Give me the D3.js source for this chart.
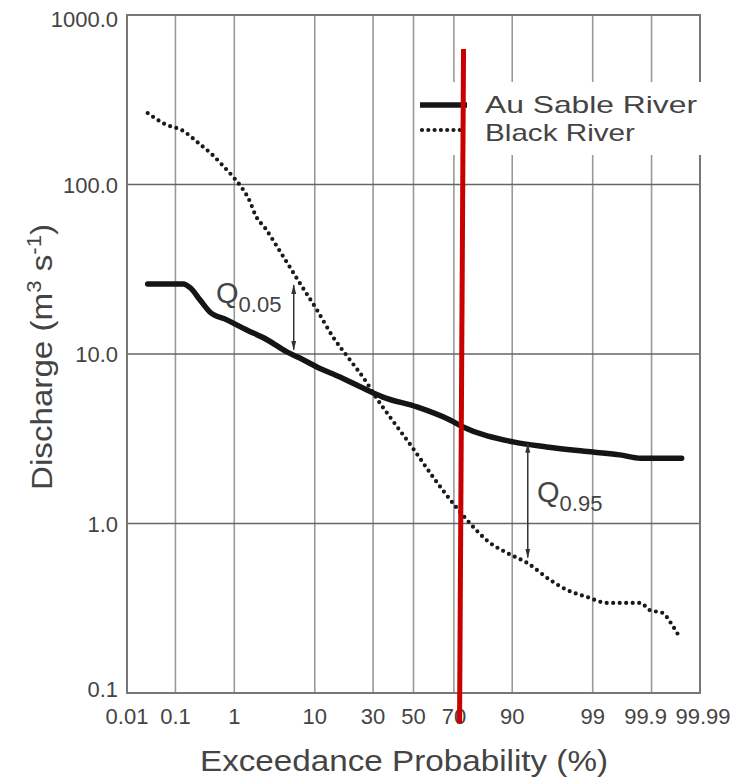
<!DOCTYPE html>
<html>
<head>
<meta charset="utf-8">
<script src="https://cdn.jsdelivr.net/npm/d3@7"></script>
<style>
  body { margin: 0; background: #fff; }
  text { font-family: "Liberation Sans", Arial, sans-serif; fill: #444; }
</style>
</head>
<body>
<div class="canvas"></div>
<script>
// exceedance probability (%) and discharge (m3/s)
const auSableP = [0.028, 0.14, 0.19, 0.28, 0.41, 0.77, 1.5, 2.9, 5.0, 7.0, 10.5, 17, 27.3, 34.6, 51.8, 68.2, 74, 90.2, 95.8, 99.0, 99.63, 99.84, 99.975]
const auSableQ = [25.9, 25.9, 24.5, 20.8, 17.7, 15.9, 13.9, 12.1, 10.3, 9.47, 8.38, 7.32, 6.13, 5.57, 4.87, 4.08, 3.71, 3.03, 2.83, 2.64, 2.54, 2.43, 2.43]

const blackP = [0.028, 0.063, 0.14, 0.26, 0.44, 0.67, 0.96, 1.3, 1.7, 2.0, 2.7, 4.2, 7.0, 10.5, 14.8, 20.5, 27.3, 30, 38, 49.2, 60, 71.4, 75.6, 84, 88.8, 93, 96.2, 97.7, 98.8, 99.4, 99.84, 99.89, 99.94, 99.957, 99.973]
const blackQ = [264, 227, 207, 176, 151, 129, 111, 95.4, 78.8, 66.1, 55.4, 40.0, 26.2, 18.2, 12.6, 9.22, 6.74, 5.89, 4.25, 2.83, 1.88, 1.23, 1.05, 0.767, 0.670, 0.585, 0.464, 0.405, 0.368, 0.340, 0.340, 0.309, 0.296, 0.262, 0.211]

const xTicks = [0.01, 0.1, 1, 10, 30, 50, 70, 90, 99, 99.9, 99.99]
const yTicks = [0.1, 1, 10, 100, 1000]

// Q annotations: probability, upper and lower discharge
const q05 = {p: 6.0, hi: 25.5, lo: 10.6}
const q95 = {p: 93.1, hi: 2.95, lo: 0.63}

// red marker drawn over the chart
const redTop = [74.2, 630]
const redBottom = [72.5, 0.066]

const width = 746
const height = 778

// inverse normal cdf (Acklam)
function probit(p) {
    const a = [-3.969683028665376e+01, 2.209460984245205e+02, -2.759285104469687e+02, 1.383577518672690e+02, -3.066479806614716e+01, 2.506628277459239e+00]
    const b = [-5.447609879822406e+01, 1.615858368580409e+02, -1.556989798598866e+02, 6.680131188771972e+01, -1.328068155288572e+01]
    const c = [-7.784894002430293e-03, -3.223964580411365e-01, -2.400758277161838e+00, -2.549732539343734e+00, 4.374664141464968e+00, 2.938163982698783e+00]
    const d = [7.784695709041462e-03, 3.224671290700398e-01, 2.445134137142996e+00, 3.754408661907416e+00]
    const pl = 0.02425
    let q, r
    if (p < pl) {
        q = Math.sqrt(-2 * Math.log(p))
        return (((((c[0]*q+c[1])*q+c[2])*q+c[3])*q+c[4])*q+c[5]) / ((((d[0]*q+d[1])*q+d[2])*q+d[3])*q+1)
    } else if (p <= 1 - pl) {
        q = p - 0.5
        r = q * q
        return (((((a[0]*r+a[1])*r+a[2])*r+a[3])*r+a[4])*r+a[5])*q / (((((b[0]*r+b[1])*r+b[2])*r+b[3])*r+b[4])*r+1)
    } else {
        q = Math.sqrt(-2 * Math.log(1 - p))
        return -(((((c[0]*q+c[1])*q+c[2])*q+c[3])*q+c[4])*q+c[5]) / ((((d[0]*q+d[1])*q+d[2])*q+d[3])*q+1)
    }
}

const zScale = d3.scaleLinear()
    .domain([probit(0.0001), probit(0.9999)])
    .range([127, 700])
const x = p => zScale(probit(p / 100))

const y = d3.scaleLog()
    .domain([0.1, 1000])
    .range([693, 15])

const svg = d3.select(".canvas").append("svg")
    .attr("width", width)
    .attr("height", height)

// grid
svg.selectAll(".vgrid")
    .data(xTicks.slice(1, -1))
    .enter()
    .append("line")
    .attr("x1", d => x(d)).attr("x2", d => x(d))
    .attr("y1", y(1000)).attr("y2", y(0.1))
    .style("stroke", "#999")
    .style("stroke-width", 1.6)

svg.selectAll(".hgrid")
    .data(yTicks.slice(1, -1))
    .enter()
    .append("line")
    .attr("x1", x(0.01)).attr("x2", x(99.99))
    .attr("y1", d => y(d)).attr("y2", d => y(d))
    .style("stroke", "#666")
    .style("stroke-width", 1.4)

// frame
svg.append("rect")
    .attr("x", x(0.01)).attr("y", y(1000))
    .attr("width", x(99.99) - x(0.01))
    .attr("height", y(0.1) - y(1000))
    .style("fill", "none")
    .style("stroke", "#777")
    .style("stroke-width", 2)

// tick labels
svg.selectAll(".ylab")
    .data(yTicks)
    .enter()
    .append("text")
    .attr("x", 118)
    .attr("y", d => y(d) + (d == 1000 ? 12 : d == 0.1 ? 4 : 8))
    .attr("text-anchor", "end")
    .style("font-size", "22px")
    .text(d => d.toFixed(1))

svg.selectAll(".xlab")
    .data(xTicks)
    .enter()
    .append("text")
    .attr("x", d => x(d) + (d == 99.9 ? -6 : d == 99.99 ? 3 : 0))
    .attr("y", 724)
    .attr("text-anchor", "middle")
    .style("font-size", "22px")
    .text(d => d)

// axis titles
svg.append("text")
    .attr("x", 200)
    .attr("y", 771)
    .attr("textLength", 408)
    .attr("lengthAdjust", "spacingAndGlyphs")
    .style("font-size", "30px")
    .text("Exceedance Probability (%)")

const yt = svg.append("text")
    .attr("transform", "translate(52,490) rotate(-90)")
    .attr("textLength", 266)
    .attr("lengthAdjust", "spacingAndGlyphs")
    .style("font-size", "30px")
yt.append("tspan").text("Discharge (m")
yt.append("tspan").attr("dy", -11).style("font-size", "20px").text("3")
yt.append("tspan").attr("dy", 11).text(" s")
yt.append("tspan").attr("dy", -11).style("font-size", "20px").text("-1")
yt.append("tspan").attr("dy", 11).text(")")

// series
const line = d3.line()
    .x(d => x(d[0]))
    .y(d => y(d[1]))
    .curve(d3.curveMonotoneX)

svg.append("path")
    .datum(d3.zip(blackP, blackQ))
    .attr("d", line)
    .style("fill", "none")
    .style("stroke", "#1a1a1a")
    .style("stroke-width", 4.2)
    .style("stroke-linecap", "round")
    .style("stroke-dasharray", "0 6.5")

svg.append("path")
    .datum(d3.zip(auSableP, auSableQ))
    .attr("d", line)
    .style("fill", "none")
    .style("stroke", "#151515")
    .style("stroke-width", 5.5)
    .style("stroke-linecap", "round")

// legend
svg.append("rect")
    .attr("x", 418).attr("y", 82)
    .attr("width", 284).attr("height", 73)
    .style("fill", "#fff")

svg.append("line")
    .attr("x1", 420).attr("x2", 467)
    .attr("y1", 105).attr("y2", 105)
    .style("stroke", "#151515")
    .style("stroke-width", 5.5)

svg.append("line")
    .attr("x1", 422).attr("x2", 460)
    .attr("y1", 130).attr("y2", 130)
    .style("stroke", "#1a1a1a")
    .style("stroke-width", 4.2)
    .style("stroke-linecap", "round")
    .style("stroke-dasharray", "0 6.3")

svg.append("text")
    .attr("x", 485).attr("y", 113)
    .attr("textLength", 212)
    .attr("lengthAdjust", "spacingAndGlyphs")
    .style("font-size", "24px")
    .text("Au Sable River")

svg.append("text")
    .attr("x", 485).attr("y", 141)
    .attr("textLength", 150)
    .attr("lengthAdjust", "spacingAndGlyphs")
    .style("font-size", "24px")
    .text("Black River")

// arrows
const defs = svg.append("defs")
defs.append("marker")
    .attr("id", "head")
    .attr("viewBox", "0 0 10 10")
    .attr("refX", 9).attr("refY", 5)
    .attr("markerWidth", 10).attr("markerHeight", 10)
    .attr("markerUnits", "userSpaceOnUse")
    .attr("orient", "auto-start-reverse")
    .append("path")
    .attr("d", "M0,2.5 L10,5 L0,7.5 Z")
    .style("fill", "#333")

;[q05, q95].forEach(q => {
    svg.append("line")
        .attr("x1", x(q.p)).attr("x2", x(q.p))
        .attr("y1", y(q.hi)).attr("y2", y(q.lo))
        .style("stroke", "#333")
        .style("stroke-width", 1.5)
        .attr("marker-start", "url(#head)")
        .attr("marker-end", "url(#head)")
})

function qLabel(px, py, sub) {
    const t = svg.append("text")
        .attr("x", px).attr("y", py)
        .style("font-size", "29px")
    t.append("tspan").text("Q")
    t.append("tspan").attr("dy", 9).style("font-size", "22px").text(sub)
}
qLabel(216, 303, "0.05")
qLabel(537, 502, "0.95")

// red marker
svg.append("line")
    .attr("x1", x(redTop[0])).attr("y1", y(redTop[1]))
    .attr("x2", x(redBottom[0])).attr("y2", y(redBottom[1]))
    .style("stroke", "#c80000")
    .style("stroke-width", 5)
</script>
</body>
</html>
